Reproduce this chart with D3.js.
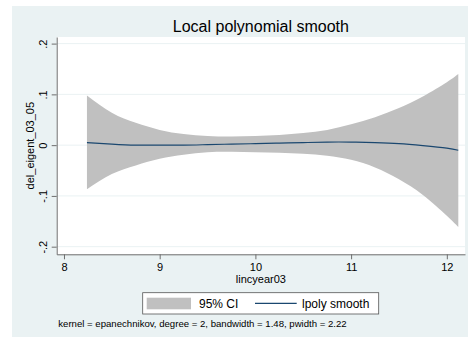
<!DOCTYPE html>
<html>
<head>
<meta charset="utf-8">
<script src="https://cdn.jsdelivr.net/npm/d3@7/dist/d3.min.js"></script>
<style>
  html, body { margin: 0; padding: 0; background: #ffffff; }
  svg { display: block; font-family: "Liberation Sans", Arial, sans-serif; }
</style>
</head>
<body>
<svg id="chart" width="468" height="338"></svg>
<script>
// lpoly fit of del_eigent_03_05 on lincyear03, with 95% confidence band
const gridX = [8.24, 8.5, 8.75, 9, 9.25, 9.5, 9.75, 10, 10.25, 10.5, 10.75, 11, 11.25, 11.5, 11.75, 12, 12.12];
const ciUpper = [0.098, 0.064, 0.044, 0.030, 0.022, 0.018, 0.017, 0.018, 0.020, 0.024, 0.030, 0.041, 0.055, 0.073, 0.096, 0.124, 0.140];
const ciLower = [-0.087, -0.057, -0.040, -0.027, -0.019, -0.014, -0.013, -0.014, -0.015, -0.017, -0.021, -0.029, -0.044, -0.067, -0.098, -0.139, -0.161];
const smooth = [0.005, 0.002, 0.000, 0.000, 0.000, 0.001, 0.002, 0.003, 0.004, 0.005, 0.006, 0.006, 0.005, 0.003, -0.001, -0.006, -0.010];

const xTicks = [8, 9, 10, 11, 12];
const yTicks = [-0.2, -0.1, 0, 0.1, 0.2];
const yTickLabels = ["-.2", "-.1", "0", ".1", ".2"];

const titleText = "Local polynomial smooth";
const xTitle = "lincyear03";
const yTitle = "del_eigent_03_05";
const legendLabels = ["95% CI", "lpoly smooth"];
const noteText = "kernel = epanechnikov, degree = 2, bandwidth = 1.48, pwidth = 2.22";

const colors = { bg: "#eaf2f3", grid: "#eaf2f3", band: "#c0c0c0", line: "#1a476f", axis: "#6e6e6e", text: "#000000" };

const svg = d3.select("#chart");
const plot = { left: 56.7, right: 465, top: 37, bottom: 254.3 };

const x = d3.scaleLinear().domain([7.924, 12.19]).range([plot.left, plot.right]);
const y = d3.scaleLinear().domain([-0.215, 0.213]).range([plot.bottom, plot.top]);

// graph region background
svg.append("rect").attr("x", 12).attr("y", 6).attr("width", 456).attr("height", 331).attr("fill", colors.bg);
// plot region
svg.append("rect").attr("x", plot.left).attr("y", plot.top)
  .attr("width", plot.right - plot.left).attr("height", plot.bottom - plot.top).attr("fill", "#ffffff");

// horizontal grid lines
svg.append("g").selectAll("line").data(yTicks).join("line")
  .attr("x1", plot.left).attr("x2", plot.right)
  .attr("y1", d => y(d)).attr("y2", d => y(d))
  .attr("stroke", colors.grid).attr("stroke-width", 1);

const rows = gridX.map((v, i) => ({ x: v, lo: ciLower[i], hi: ciUpper[i], s: smooth[i] }));

// confidence band
svg.append("path").datum(rows)
  .attr("fill", colors.band)
  .attr("d", d3.area().curve(d3.curveNatural)
    .x(d => x(d.x)).y0(d => y(d.lo)).y1(d => y(d.hi)));

// smooth line
svg.append("path").datum(rows)
  .attr("fill", "none").attr("stroke", colors.line).attr("stroke-width", 1.2)
  .attr("d", d3.line().curve(d3.curveNatural).x(d => x(d.x)).y(d => y(d.s)));

// y axis
const yAxis = svg.append("g").attr("transform", `translate(${plot.left},0)`)
  .call(d3.axisLeft(y).tickValues(yTicks).tickSize(5).tickSizeOuter(0)
    .tickFormat((d, i) => yTickLabels[i]));
yAxis.select(".domain").attr("stroke", colors.axis);
yAxis.selectAll(".tick line").attr("stroke", colors.axis);
yAxis.selectAll(".tick text")
  .attr("transform", "rotate(-90)")
  .attr("x", 0).attr("y", -9.7).attr("dy", 0)
  .attr("text-anchor", "middle")
  .attr("fill", colors.text).style("font-size", "11px").style("font-family", "Liberation Sans, Arial, sans-serif");

// x axis
const xAxis = svg.append("g").attr("transform", `translate(0,${plot.bottom})`)
  .call(d3.axisBottom(x).tickValues(xTicks).tickSize(5).tickSizeOuter(0).tickFormat(d3.format("d")));
xAxis.select(".domain").attr("stroke", colors.axis);
xAxis.selectAll(".tick line").attr("stroke", colors.axis);
xAxis.selectAll(".tick text")
  .attr("y", 17.2).attr("dy", 0)
  .attr("fill", colors.text).style("font-size", "11px").style("font-family", "Liberation Sans, Arial, sans-serif");

// titles
const cx = (plot.left + plot.right) / 2;
svg.append("text").attr("x", cx).attr("y", 32).attr("text-anchor", "middle")
  .attr("fill", colors.text).style("font-size", "16px").text(titleText);
svg.append("text").attr("x", cx).attr("y", 283).attr("text-anchor", "middle")
  .attr("fill", colors.text).style("font-size", "11px").text(xTitle);
svg.append("text").attr("transform", `translate(34,${(plot.top + plot.bottom) / 2}) rotate(-90)`)
  .attr("text-anchor", "middle").attr("fill", colors.text).style("font-size", "11px").text(yTitle);

// legend
const lg = svg.append("g");
lg.append("rect").attr("x", 142.7).attr("y", 292.7).attr("width", 236).attr("height", 21.3)
  .attr("fill", "#ffffff").attr("stroke", "#555555").attr("stroke-width", 0.8);
lg.append("rect").attr("x", 146.7).attr("y", 297.7).attr("width", 44.3).attr("height", 11.6).attr("fill", colors.band);
lg.append("text").attr("x", 199).attr("y", 307.7).attr("fill", colors.text).style("font-size", "12px").text(legendLabels[0]);
lg.append("line").attr("x1", 255).attr("x2", 296.7).attr("y1", 303.3).attr("y2", 303.3)
  .attr("stroke", colors.line).attr("stroke-width", 1.2);
lg.append("text").attr("x", 302).attr("y", 307.7).attr("fill", colors.text).style("font-size", "12px").text(legendLabels[1]);

// note
svg.append("text").attr("x", 58.3).attr("y", 326.7).attr("fill", colors.text)
  .style("font-size", "9.6px").text(noteText);
</script>
</body>
</html>
